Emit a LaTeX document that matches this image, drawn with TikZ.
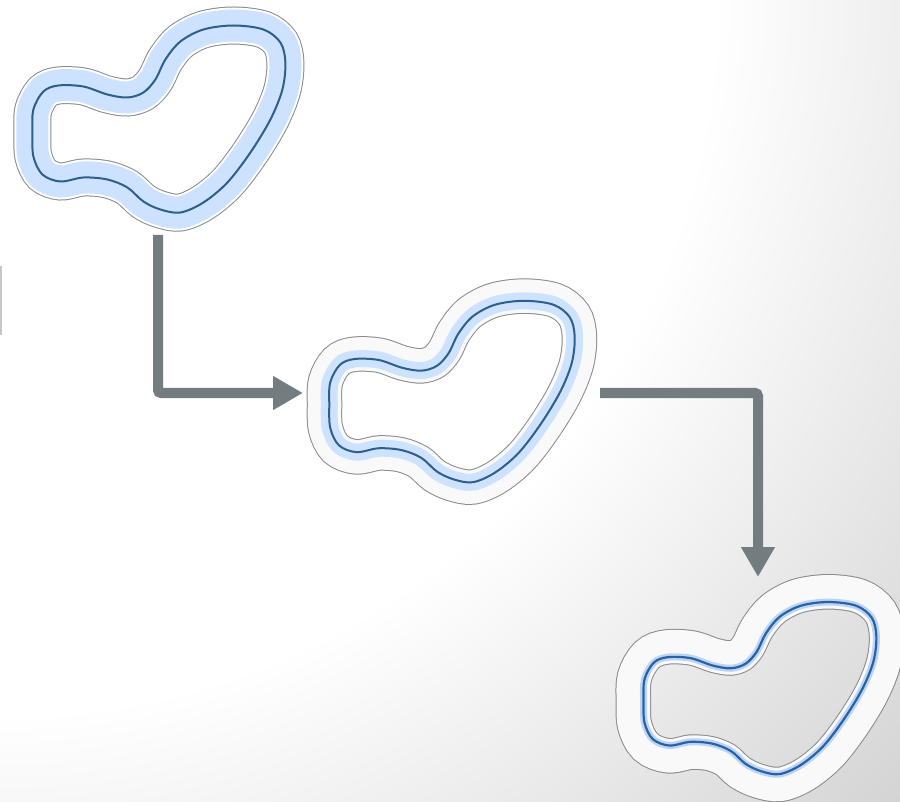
\documentclass[tikz,border=0pt]{standalone}
\usetikzlibrary{arrows.meta}

\definecolor{outlinegray}{RGB}{138,138,138}
\definecolor{bandblue}{RGB}{204,226,255}
\definecolor{haloblue}{RGB}{188,212,242}
\definecolor{coreblue}{RGB}{46,94,138}
\definecolor{vividblue}{RGB}{40,98,166}
\definecolor{paleband}{RGB}{249,249,249}
\definecolor{arrowgray}{RGB}{115,125,128}
\definecolor{bgcorner}{RGB}{212,212,212}

\pgfdeclareradialshading{bgglow}{\pgfpoint{0bp}{0bp}}{color(0bp)=(white);
  color(14.8bp)=(white); color(25bp)=(bgcorner); color(50bp)=(bgcorner)}

% centre line of the blob, relative to its middle
\def\blobpath{plot[smooth cycle, tension=0.55] coordinates {
  (-126,13) (-125,-10) (-115,-28) (-100,-34) (-75,-33) (-51,-25) (-31,-22)
  (-15,-27) (-3,-40) (7,-60) (22,-78) (45,-90) (75,-94) (105,-90) (122,-77)
  (127,-57) (124,-30) (112,0) (92,33) (69,63) (45,83) (22,93) (2,90)
  (-15,82) (-31,68) (-51,60) (-75,58) (-98,62) (-116,55) (-125,37)}}

% #1 middle, #2 scale, #3 outer offset, #4 inner offset, #5 fill, #6 band, #7 core
\newcommand{\bandblob}[7]{%
  \begin{scope}[shift={#1}, scale=#2]
    \begin{scope}[even odd rule]
      \clip (-1000,-1000) rectangle (1000,1000) \blobpath;
      \draw[outlinegray, line width={2*#3+1}] \blobpath;
      \draw[#5, line width={2*#3-1}] \blobpath;
    \end{scope}
    \begin{scope}
      \clip \blobpath;
      \draw[outlinegray, line width={2*#4+1}] \blobpath;
      \draw[#5, line width={2*#4-1}] \blobpath;
    \end{scope}
    \draw[#6] \blobpath;
    \draw[#7] \blobpath;
  \end{scope}}

\begin{document}
\begin{tikzpicture}[x=1pt, y=-1pt,
    flow/.style={draw=arrowgray, line width=10pt, rounded corners=3pt,
                 -{Triangle[length=30pt, width=32pt]}},
    edgemark/.style={draw=gray!45, line width=1.5pt}
  ]
  \useasboundingbox (0,0) rectangle (900,802);
  \begin{scope}
    \clip (0,0) rectangle (900,802);
    \shade[shading=bgglow] (0,0) circle (1205pt);
  \end{scope}

  \draw[edgemark] (0.8,266) -- (0.8,335);

  \bandblob{(158.4,119.5)}{1}{18.5}{18.5}{white}{bandblue, line width=32}{coreblue, line width=2}
  \bandblob{(451.5,392)}{0.97}{22}{12.5}{paleband}{bandblue, line width=17}{coreblue, line width=2}
  \bandblob{(759.5,688.5)}{0.92}{27.5}{7}{paleband}{haloblue, line width=7}{vividblue, line width=2.2}

  \coordinate (srcout) at (158,235);
  \coordinate (midin)  at (303,393);
  \coordinate (midout) at (600,393);
  \coordinate (dstin)  at (758,577);

  \draw[flow] (srcout) |- (midin);
  \draw[flow] (midout) -| (dstin);
\end{tikzpicture}
\end{document}
